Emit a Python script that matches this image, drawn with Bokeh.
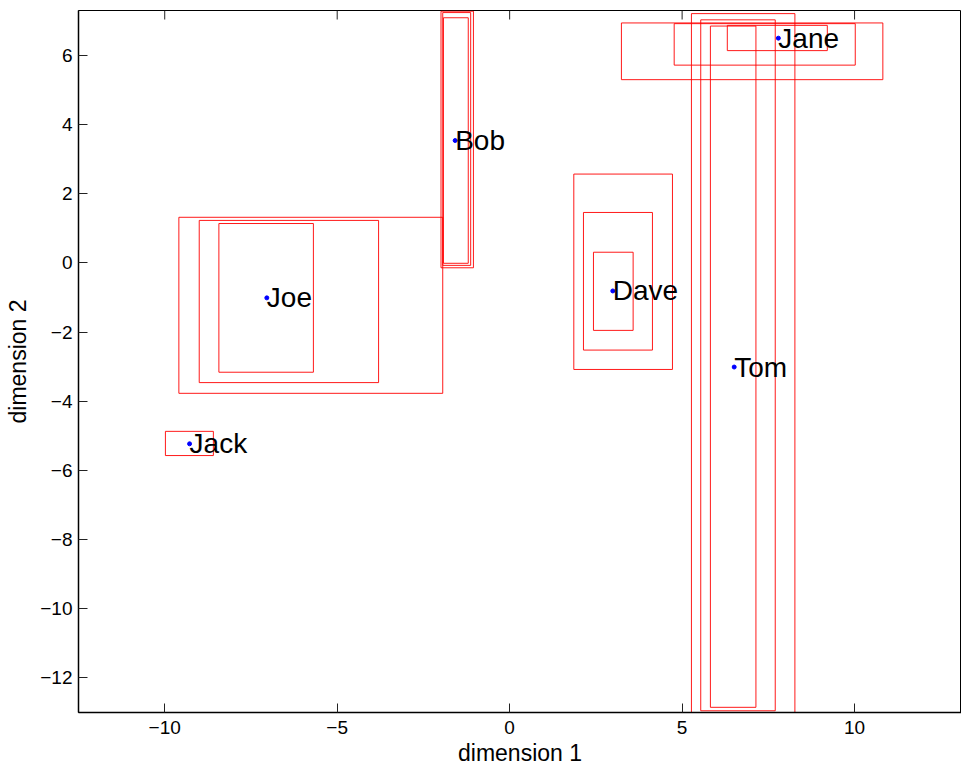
import math
from bokeh.plotting import figure
from bokeh.models import FixedTicker, Range1d, ColumnDataSource
from bokeh.embed import file_html
from bokeh.resources import INLINE
from bokeh.core.properties import value

# Points and names
names = ["Bob", "Jane", "Tom", "Dave", "Joe", "Jack"]
px = [-1.58, 7.79, 6.51, 2.99, -7.04, -9.28]
py = [3.54, 6.50, -3.01, -0.81, -1.01, -5.23]

# Rectangles (left, right, bottom, top)
rect_left = [-1.99, -1.94, -1.92,
             3.24, 4.77, 6.31,
             5.27, 5.54, 5.82,
             1.86, 2.14, 2.43,
             -9.59, -9.00, -8.43,
             -9.98]
rect_right = [-1.05, -1.13, -1.20,
              10.82, 10.02, 9.21,
              8.27, 7.70, 7.14,
              4.72, 4.14, 3.58,
              -1.94, -3.80, -5.69,
              -8.59]
rect_bottom = [-0.14, -0.07, -0.01,
               5.30, 5.72, 6.14,
               -13.00, -12.95, -12.85,
               -3.08, -2.52, -1.95,
               -3.77, -3.46, -3.16,
               -5.57]
rect_top = [7.28, 7.24, 7.09,
            6.94, 6.92, 6.87,
            7.21, 7.03, 6.85,
            2.57, 1.46, 0.31,
            1.32, 1.23, 1.14,
            -4.87]

x_ticks = [-10, -5, 0, 5, 10]
x_tick_labels = ["\u221210", "\u22125", "0", "5", "10"]
y_ticks = [-12, -10, -8, -6, -4, -2, 0, 2, 4, 6]
y_tick_labels = ["\u221212", "\u221210", "\u22128", "\u22126", "\u22124", "\u22122", "0", "2", "4", "6"]

FONT = "Liberation Sans"
X_START, X_END = -12.5, 13.1
Y_START, Y_END = -13.0, 7.3

p = figure(width=961, height=769, output_backend="svg", toolbar_location=None,
           x_range=Range1d(X_START, X_END), y_range=Range1d(Y_START, Y_END),
           min_border_left=78, min_border_right=0, min_border_top=10, min_border_bottom=57,
           x_axis_label="dimension 1", y_axis_label="dimension 2")
p.grid.visible = False
p.outline_line_color = "black"
p.outline_line_width = 1
p.background_fill_color = "white"
p.border_fill_color = "white"

def style_axis(ax, ticks, labels):
    ax.ticker = FixedTicker(ticks=ticks)
    ax.major_label_overrides = {t: l for t, l in zip(ticks, labels)}
    ax.major_tick_in = 9
    ax.major_tick_out = 0
    ax.minor_tick_in = 0
    ax.minor_tick_out = 0
    ax.axis_line_color = "black"
    ax.axis_line_width = 1.5
    ax.major_tick_line_color = "#222222"
    ax.major_label_text_font = FONT
    ax.major_label_text_color = "black"
    ax.major_label_text_font_size = "19px"
    ax.axis_label_text_font = FONT
    ax.axis_label_text_font_size = "23px"
    ax.axis_label_text_font_style = "normal"
    ax.axis_label_text_color = "black"

style_axis(p.xaxis[0], x_ticks, x_tick_labels)
style_axis(p.yaxis[0], y_ticks, y_tick_labels)
p.xaxis[0].major_label_standoff = 8
p.yaxis[0].major_label_standoff = 6
p.xaxis[0].axis_label_standoff = 3
p.yaxis[0].axis_label_standoff = 6

# inward tick marks along the top edge of the box
p.ray(x=x_ticks, y=[Y_END] * len(x_ticks), length=9, length_units="screen",
      angle=-math.pi / 2, line_color="#222222", line_width=1)

src_r = ColumnDataSource(dict(left=rect_left, right=rect_right, bottom=rect_bottom, top=rect_top))
p.quad(left="left", right="right", bottom="bottom", top="top", source=src_r,
       fill_alpha=0, line_color="red", line_width=1, line_alpha=0.9)

src_p = ColumnDataSource(dict(x=px, y=py, name=names))
p.scatter(x="x", y="y", source=src_p, size=4, color="blue", marker="circle")
p.text(x="x", y="y", text="name", source=src_p, text_font=value(FONT),
       text_font_size="28px", text_align="left", text_baseline="middle", text_color="black")

open("out.html", "w").write(file_html(p, INLINE))
